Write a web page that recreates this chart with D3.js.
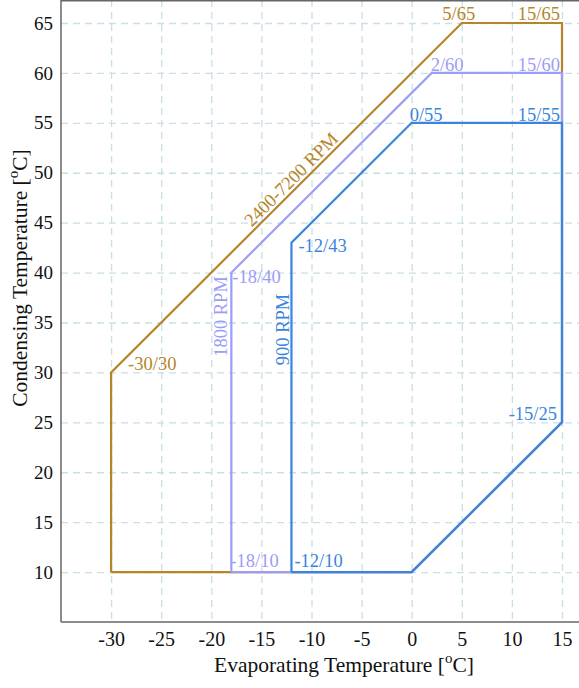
<!DOCTYPE html>
<html>
<head>
<meta charset="utf-8">
<script src="https://cdn.jsdelivr.net/npm/d3@7"></script>
<style>
  body { margin: 0; background: #fff; }
  svg { font-family: "Liberation Serif", "DejaVu Serif", serif; }
  .grid line { stroke: #c9dfe6; stroke-width: 1.3; stroke-dasharray: 7,5; }
  .grid .domain { display: none; }
  .axis .domain { stroke: #666; stroke-width: 1.5; }
  .axis text { fill: #111; }
</style>
</head>
<body>
<svg></svg>
<script>
// operating envelopes (evaporating / condensing temperature, closed polygons)
const evap2400 = [-30, -30, 5, 15, 15, 0, -30];
const cond2400 = [10, 30, 65, 65, 25, 10, 10];
const evap1800 = [-18, -18, 2, 15, 15, 0, -18];
const cond1800 = [10, 40, 60, 60, 25, 10, 10];
const evap900 = [-12, -12, 0, 15, 15, 0, -12];
const cond900 = [10, 43, 55, 55, 25, 10, 10];

const seriesNames = ["2400-7200 RPM", "1800 RPM", "900 RPM"];

// corner annotations
const cornerText = ["5/65", "15/65", "2/60", "15/60", "0/55", "15/55", "-12/43", "-18/40", "-30/30", "-15/25", "-18/10", "-12/10"];
const cornerEvap = [5, 15, 2, 15, 0, 15, -12, -18, -30, 15, -18, -12];
const cornerCond = [65, 65, 60, 60, 55, 55, 43, 40, 30, 25, 10, 10];
const cornerSeries = [0, 0, 1, 1, 2, 2, 2, 1, 0, 2, 1, 2];

const xTicks = [-30, -25, -20, -15, -10, -5, 0, 5, 10, 15];
const yTicks = [10, 15, 20, 25, 30, 35, 40, 45, 50, 55, 60, 65];

function drawChart() {
    const svgWidth = 579, svgHeight = 688;
    const margin = { top: 0, left: 61 };
    const width = 520, height = 622;

    const colors = ["#b5852a", "#9c9df6", "#3a84e0"];

    const svg = d3.select("svg")
        .attr("width", svgWidth)
        .attr("height", svgHeight);

    const g = svg.append("g")
        .attr("transform", `translate(${margin.left}, ${margin.top})`);

    const x = d3.scaleLinear().domain([-35, 15]).range([0, 501]);
    const y = d3.scaleLinear().domain([5, 65]).range([height, 23]);

    // gridlines
    g.append("g")
        .attr("class", "grid")
        .call(d3.axisLeft(y).tickValues(yTicks).tickSize(-width).tickFormat(""));
    g.append("g")
        .attr("class", "grid")
        .call(d3.axisTop(x).tickValues(xTicks).tickSize(-height).tickFormat(""));

    // top border
    g.append("line")
        .attr("x1", 0).attr("x2", width)
        .attr("y1", 0.75).attr("y2", 0.75)
        .attr("stroke", "#666").attr("stroke-width", 1.5);

    // envelopes
    const envelopes = [
        { evap: evap2400, cond: cond2400 },
        { evap: evap1800, cond: cond1800 },
        { evap: evap900, cond: cond900 }
    ];
    const line = d3.line()
        .x(d => x(d[0]))
        .y(d => y(d[1]));

    envelopes.forEach((env, i) => {
        g.append("path")
            .datum(env.evap.map((e, k) => [e, env.cond[k]]))
            .attr("fill", "none")
            .attr("stroke", colors[i])
            .attr("stroke-width", 2.2)
            .attr("d", line);
    });

    // corner labels: offsets (dx, dy, anchor)
    const labelStyle = {
        "5/65": [-3, -3, "middle"], "15/65": [-2, -3, "end"],
        "2/60": [-1, -2, "start"], "15/60": [-2, -2, "end"],
        "0/55": [-2, -2, "start"], "15/55": [-2, -2, "end"],
        "-12/43": [7, 9, "start"], "-18/40": [1, 10, "start"],
        "-30/30": [17, -2, "start"], "-15/25": [-5, -2, "end"],
        "-18/10": [-1, -5, "start"], "-12/10": [3, -5, "start"]
    };
    cornerText.forEach((t, i) => {
        const s = labelStyle[t];
        g.append("text")
            .attr("x", x(cornerEvap[i]) + s[0])
            .attr("y", y(cornerCond[i]) + s[1])
            .attr("text-anchor", s[2])
            .attr("font-size", 18.5)
            .attr("fill", colors[cornerSeries[i]])
            .text(t);
    });

    // series labels
    g.append("text")
        .attr("transform", `translate(${x(-11.6)}, ${y(48.4) - 5}) rotate(-45)`)
        .attr("text-anchor", "middle")
        .attr("font-size", 18.5)
        .attr("fill", colors[0])
        .text(seriesNames[0]);
    g.append("text")
        .attr("transform", `translate(${x(-18) - 4}, ${y(35.6)}) rotate(-90)`)
        .attr("text-anchor", "middle")
        .attr("font-size", 18.5)
        .attr("fill", colors[1])
        .text(seriesNames[1]);
    g.append("text")
        .attr("transform", `translate(${x(-12) - 2}, ${y(34.3)}) rotate(-90)`)
        .attr("text-anchor", "middle")
        .attr("font-size", 18.5)
        .attr("fill", colors[2])
        .text(seriesNames[2]);

    // axes
    g.append("g")
        .attr("class", "axis")
        .call(d3.axisLeft(y).tickValues(yTicks).tickSize(0).tickPadding(8).tickFormat(d => String(d)))
        .call(a => a.select(".domain").attr("d", `M0,${height}V0`))
        .attr("font-family", null)
        .attr("font-size", 19);

    g.append("g")
        .attr("class", "axis")
        .attr("transform", `translate(0, ${height})`)
        .call(d3.axisBottom(x).tickValues(xTicks).tickSize(0).tickPadding(10).tickFormat(d => String(d)))
        .call(a => a.select(".domain").attr("d", `M0,0H${width}`))
        .attr("font-family", null)
        .attr("font-size", 20);

    // axis titles
    const xt = svg.append("text")
        .attr("x", 344).attr("y", 672)
        .attr("text-anchor", "middle")
        .attr("font-size", 21.5)
        .attr("fill", "#111");
    xt.append("tspan").text("Evaporating Temperature [");
    xt.append("tspan").attr("dy", -9).attr("font-size", 15).text("o");
    xt.append("tspan").attr("dy", 9).text("C]");

    const yt = svg.append("text")
        .attr("transform", "translate(27, 278) rotate(-90)")
        .attr("text-anchor", "middle")
        .attr("font-size", 21.5)
        .attr("fill", "#111");
    yt.append("tspan").text("Condensing Temperature [");
    yt.append("tspan").attr("dy", -9).attr("font-size", 15).text("o");
    yt.append("tspan").attr("dy", 9).text("C]");
}

drawChart();
</script>
</body>
</html>
